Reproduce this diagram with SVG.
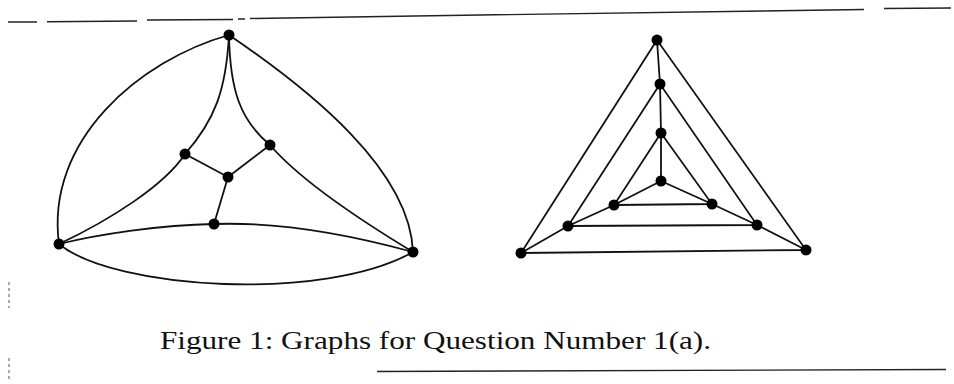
<svg xmlns="http://www.w3.org/2000/svg" width="954" height="384" viewBox="0 0 954 384">
  <style>
    .edge { fill: none; stroke: #111; stroke-width: 1.8; stroke-linecap: round; }
    .node circle { fill: #000; }
    .rule { fill: none; stroke: #222; stroke-width: 1.4; }
    .mark { fill: none; stroke: #555; stroke-width: 1; stroke-dasharray: 3 3; }
    .caption { font-family: "Liberation Serif", "DejaVu Serif", serif; font-size: 26px; fill: #111; }
  </style>

  <!-- page rules (scan) -->
  <g id="rules">
    <path class="rule" d="M8,22 L37,22 M47,21.7 L137,21 M147,20 L233,19.5 M238,19 L245,19 M250,18.5 L480,15 L864,9.5 M884,8.5 L951,8"/>
    <path class="rule" d="M377,371.5 L946,369.5"/>
    <path class="mark" d="M9,282 L9,308 M9,358 L9,382"/>
  </g>

  <!-- connectors -->
  <g id="connectors">
    <!-- left graph -->
    <path class="edge" d="M229,35 C140,60 45,140 59,244"/>
    <path class="edge" d="M229,35 C310,90 410,170 413,252"/>
    <path class="edge" d="M229,35 C226,90 215,120 185,154"/>
    <path class="edge" d="M229,35 C230,90 240,120 270,145"/>
    <path class="edge" d="M185,154 C165,185 110,220 59,244"/>
    <path class="edge" d="M270,145 C300,180 360,220 413,252"/>
    <path class="edge" d="M185,154 L228,177"/>
    <path class="edge" d="M270,145 L228,177"/>
    <path class="edge" d="M228,177 L214,224"/>
    <path class="edge" d="M59,244 C100,234 160,225 214,224"/>
    <path class="edge" d="M214,224 C270,222 340,232 413,252"/>
    <path class="edge" d="M59,244 C115,290 325,302 413,252"/>
    <!-- right graph -->
    <path class="edge" d="M657,40 L521,253 L806,250 Z"/>
    <path class="edge" d="M660,84 L568,226 L757,225 Z"/>
    <path class="edge" d="M661,133 L614,205 L712,204 Z"/>
    <path class="edge" d="M657,40 L660,84 L661,133 L661,181"/>
    <path class="edge" d="M661,181 L614,205 L568,226 L521,253"/>
    <path class="edge" d="M661,181 L712,204 L757,225 L806,250"/>
  </g>

  <!-- left graph nodes -->
  <g id="L-top" class="node"><circle cx="229" cy="35" r="5.5"/></g>
  <g id="L-left" class="node"><circle cx="59" cy="244" r="5.5"/></g>
  <g id="L-right" class="node"><circle cx="413" cy="252" r="5.5"/></g>
  <g id="L-midleft" class="node"><circle cx="185" cy="154" r="5.5"/></g>
  <g id="L-midright" class="node"><circle cx="270" cy="145" r="5.5"/></g>
  <g id="L-center" class="node"><circle cx="228" cy="177" r="5.5"/></g>
  <g id="L-lower" class="node"><circle cx="214" cy="224" r="5.5"/></g>

  <!-- right graph nodes -->
  <g id="R-otop" class="node"><circle cx="657" cy="40" r="5.5"/></g>
  <g id="R-mtop" class="node"><circle cx="660" cy="84" r="5.5"/></g>
  <g id="R-itop" class="node"><circle cx="661" cy="133" r="5.5"/></g>
  <g id="R-center" class="node"><circle cx="661" cy="181" r="5.5"/></g>
  <g id="R-ileft" class="node"><circle cx="614" cy="205" r="5.5"/></g>
  <g id="R-iright" class="node"><circle cx="712" cy="204" r="5.5"/></g>
  <g id="R-mleft" class="node"><circle cx="568" cy="226" r="5.5"/></g>
  <g id="R-mright" class="node"><circle cx="757" cy="225" r="5.5"/></g>
  <g id="R-oleft" class="node"><circle cx="521" cy="253" r="5.5"/></g>
  <g id="R-oright" class="node"><circle cx="806" cy="250" r="5.5"/></g>

  <text class="caption" x="160" y="349" textLength="551" lengthAdjust="spacingAndGlyphs">Figure 1: Graphs for Question Number 1(a).</text>
</svg>
